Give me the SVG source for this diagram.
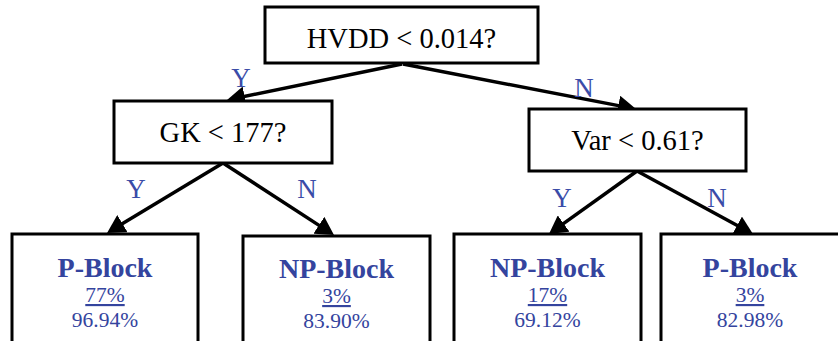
<svg xmlns="http://www.w3.org/2000/svg" width="838" height="341" viewBox="0 0 838 341">
  <style>
    .box { fill: #ffffff; stroke: #000000; stroke-width: 3; }
    text { font-family: "Liberation Serif", Tinos, "Times New Roman", Times, "Nimbus Roman", "DejaVu Serif", serif; text-anchor: middle; }
    .cond { font-size: 28.5px; fill: #000000; }
    .yn { font-size: 27px; fill: #3a4ca8; }
    .cls { font-size: 28px; font-weight: bold; fill: #34449e; }
    .pct { font-size: 21.5px; fill: #34449e; }
    .edge { stroke: #000000; stroke-width: 3.5; fill: none; marker-end: url(#arrow); }
  </style>
  <defs>
    <marker id="arrow" markerUnits="userSpaceOnUse" viewBox="0 -10 18 20" markerWidth="18" markerHeight="20" refX="8" refY="0" orient="auto">
      <path d="M0,-10 L18,0 L0,10 Z" fill="#000000"/>
    </marker>
  </defs>

  <rect width="838" height="341" fill="#ffffff"/>

  <!-- connectors -->
  <g id="connectors">
    <line class="edge" x1="402" y1="64" x2="236.8" y2="98"/>
    <line class="edge" x1="403" y1="64" x2="626.2" y2="107.1"/>
    <line class="edge" x1="223" y1="163" x2="115.6" y2="227.8"/>
    <line class="edge" x1="223" y1="163" x2="325.6" y2="229.6"/>
    <line class="edge" x1="637" y1="171" x2="557.1" y2="228.2"/>
    <line class="edge" x1="637" y1="171" x2="744.2" y2="229.2"/>
  </g>

  <!-- branch labels -->
  <g id="edge-labels">
    <text class="yn" x="241" y="87" font-family="Liberation Serif, serif">Y</text>
    <text class="yn" x="584" y="97" font-family="Liberation Serif, serif">N</text>
    <text class="yn" x="136" y="198" font-family="Liberation Serif, serif">Y</text>
    <text class="yn" x="307" y="198" font-family="Liberation Serif, serif">N</text>
    <text class="yn" x="562" y="207" font-family="Liberation Serif, serif">Y</text>
    <text class="yn" x="717" y="207" font-family="Liberation Serif, serif">N</text>
  </g>

  <!-- decision nodes -->
  <g id="node-hvdd">
    <rect class="box" x="265" y="7" width="273" height="56"/>
    <text class="cond" x="401.5" y="48">HVDD &lt; 0.014?</text>
  </g>
  <g id="node-gk">
    <rect class="box" x="114" y="101" width="218" height="62"/>
    <text class="cond" x="223" y="142">GK &lt; 177?</text>
  </g>
  <g id="node-var">
    <rect class="box" x="529" y="109" width="217" height="62"/>
    <text class="cond" x="637.5" y="150">Var &lt; 0.61?</text>
  </g>

  <!-- leaf nodes -->
  <g id="leaf-1">
    <rect class="box" x="12" y="234" width="186" height="115"/>
    <text class="cls" x="105" y="277">P-Block</text>
    <text class="pct" x="105" y="302" text-decoration="underline">77%</text>
    <text class="pct" x="105" y="327">96.94%</text>
  </g>
  <g id="leaf-2">
    <rect class="box" x="243" y="236" width="187" height="115"/>
    <text class="cls" x="336.5" y="278">NP-Block</text>
    <text class="pct" x="336.5" y="303" text-decoration="underline">3%</text>
    <text class="pct" x="336.5" y="328">83.90%</text>
  </g>
  <g id="leaf-3">
    <rect class="box" x="454" y="234" width="187" height="115"/>
    <text class="cls" x="547.5" y="277">NP-Block</text>
    <text class="pct" x="547.5" y="302" text-decoration="underline">17%</text>
    <text class="pct" x="547.5" y="327">69.12%</text>
  </g>
  <g id="leaf-4">
    <rect class="box" x="661" y="234" width="180" height="115"/>
    <text class="cls" x="750" y="277">P-Block</text>
    <text class="pct" x="750" y="302" text-decoration="underline">3%</text>
    <text class="pct" x="750" y="327">82.98%</text>
  </g>
</svg>
